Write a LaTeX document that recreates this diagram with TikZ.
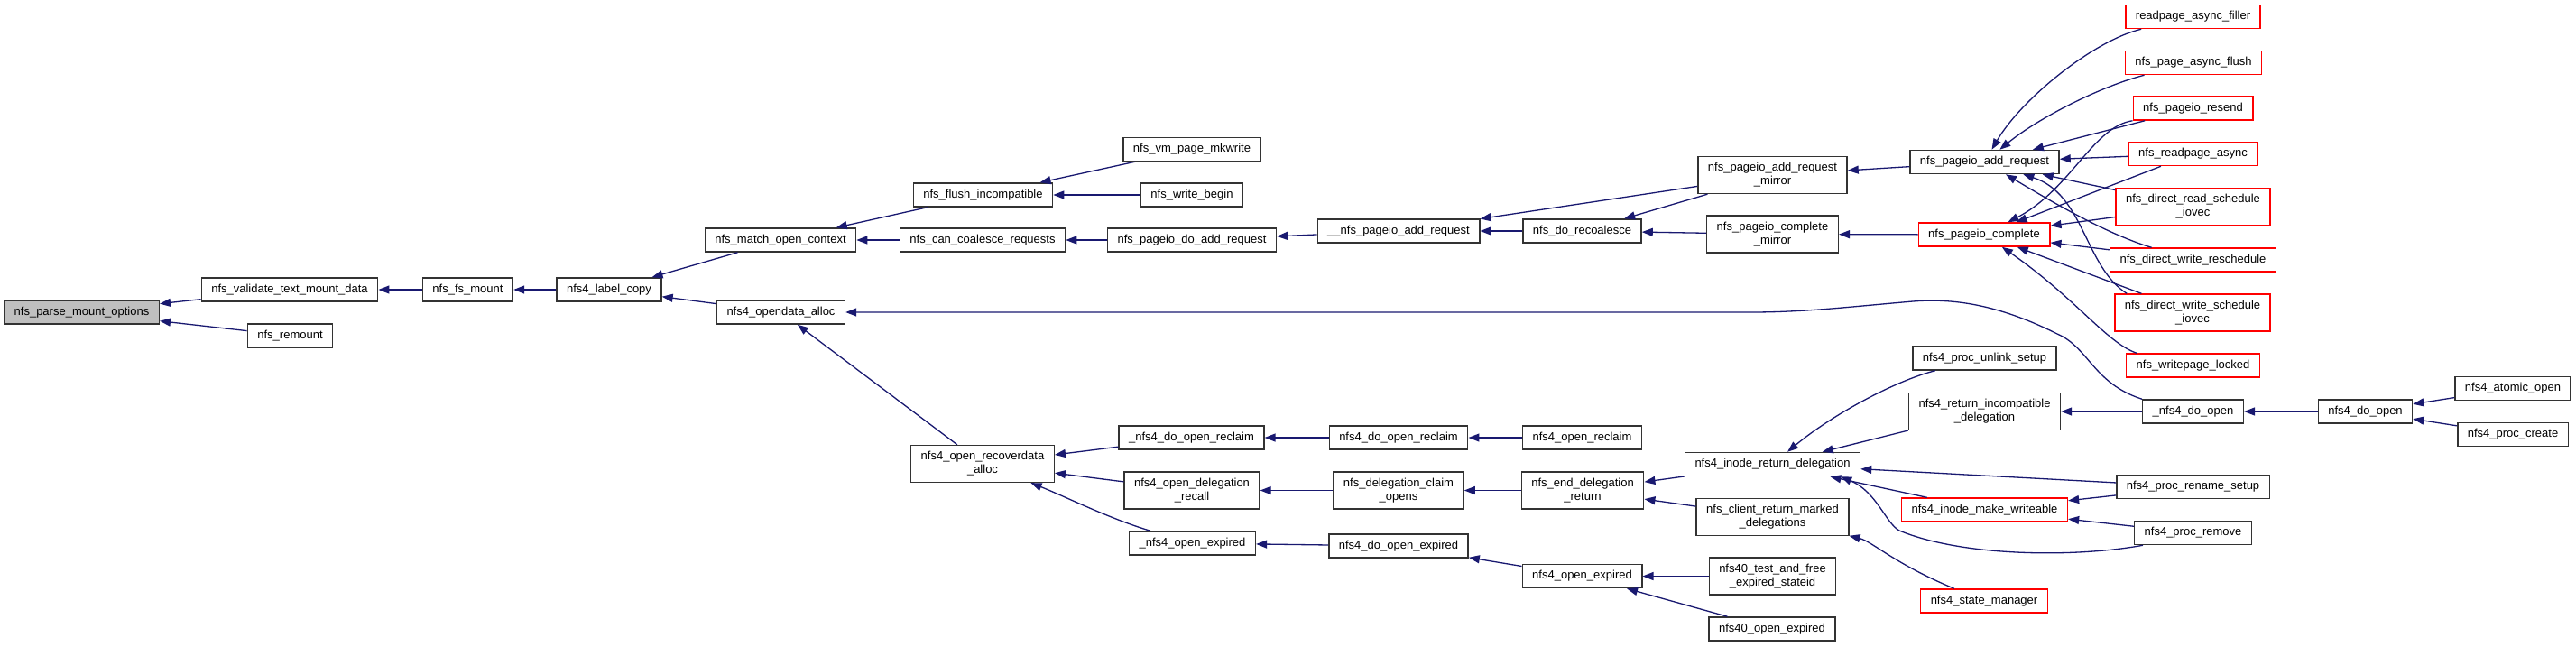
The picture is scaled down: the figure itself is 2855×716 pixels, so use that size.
\documentclass[tikz,border=0pt]{standalone}
\usepackage{fontspec}
\setmainfont{Liberation Sans}
\usetikzlibrary{arrows.meta}
\definecolor{cgedge}{HTML}{191970}
\definecolor{cgred}{HTML}{FF0000}
\tikzset{
  cg node/.style={
    rectangle, draw=black!80, fill=white, line width=1.4pt,
    font=\fontsize{13}{15}\selectfont, align=center,
    minimum height=26pt, inner xsep=11pt, inner ysep=7pt
  },
  cg root/.style={
    cg node, fill=black!25
  },
  cg red/.style={
    cg node, draw=cgred
  },
  cg arrow/.style={
    -{Triangle[length=12pt,width=9pt]}, line width=1.3pt, draw=cgedge
  }
}

\begin{document}
\begin{tikzpicture}[x=1pt, y=-1pt]
  \useasboundingbox (0,0) rectangle (2855,716);

  % callees on the left
  \node (parse) [cg root] at (90.5,346) {nfs\_parse\_mount\_options};
  \node (validate) [cg node] at (321,321) {nfs\_validate\_text\_mount\_data};
  \node (remount) [cg node] at (321.5,372) {nfs\_remount};
  \node (fsmount) [cg node] at (518.5,321) {nfs\_fs\_mount};
  \node (labelcopy) [cg node] at (675,321) {nfs4\_label\_copy};
  \node (matchctx) [cg node] at (865,266) {nfs\_match\_open\_context};
  \node (opendata) [cg node] at (865.5,346) {nfs4\_opendata\_alloc};
  \node (flush) [cg node] at (1089.5,216) {nfs\_flush\_incompatible};
  \node (coalesce) [cg node] at (1089,266) {nfs\_can\_coalesce\_requests};
  \node (recoverdata) [cg node] at (1089,514) {nfs4\_open\_recoverdata\\\_alloc};
  \node (mkwrite) [cg node] at (1321,165.5) {nfs\_vm\_page\_mkwrite};
  \node (writebegin) [cg node] at (1321,216) {nfs\_write\_begin};
  \node (doadd) [cg node] at (1321,266) {nfs\_pageio\_do\_add\_request};
  \node (udoreclaim) [cg node] at (1320.5,485) {\_nfs4\_do\_open\_reclaim};
  \node (delegrecall) [cg node] at (1321,543.5) {nfs4\_open\_delegation\\\_recall};
  \node (uexpired) [cg node] at (1321.5,602) {\_nfs4\_open\_expired};

  % middle
  \node (uuadd) [cg node] at (1550,256) {\_\_nfs\_pageio\_add\_request};
  \node (doreclaim) [cg node] at (1550,485) {nfs4\_do\_open\_reclaim};
  \node (claimopens) [cg node] at (1550,543.5) {nfs\_delegation\_claim\\\_opens};
  \node (doexpired) [cg node] at (1550,605) {nfs4\_do\_open\_expired};
  \node (recoalesce) [cg node] at (1753.5,256) {nfs\_do\_recoalesce};
  \node (openreclaim) [cg node] at (1753.5,485) {nfs4\_open\_reclaim};
  \node (enddeleg) [cg node] at (1754,543.5) {nfs\_end\_delegation\\\_return};
  \node (openexpired) [cg node] at (1753.5,638.5) {nfs4\_open\_expired};
  \node (addmirror) [cg node] at (1964.5,194) {nfs\_pageio\_add\_request\\\_mirror};
  \node (completemirror) [cg node] at (1964.5,259.5) {nfs\_pageio\_complete\\\_mirror};
  \node (inoderet) [cg node] at (1964.5,514.5) {nfs4\_inode\_return\_delegation};
  \node (clientret) [cg node] at (1964.5,573) {nfs\_client\_return\_marked\\\_delegations};
  \node (testfree) [cg node] at (1964.5,638.5) {nfs40\_test\_and\_free\\\_expired\_stateid};
  \node (v40expired) [cg node] at (1964,697) {nfs40\_open\_expired};

  % callers on the right
  \node (addreq) [cg node] at (2199.5,179.5) {nfs\_pageio\_add\_request};
  \node (complete) [cg red] at (2199,260) {nfs\_pageio\_complete};
  \node (unlinksetup) [cg node] at (2199.5,397) {nfs4\_proc\_unlink\_setup};
  \node (retincompat) [cg node] at (2199.5,456) {nfs4\_return\_incompatible\\\_delegation};
  \node (makewriteable) [cg red] at (2199.5,565) {nfs4\_inode\_make\_writeable};
  \node (statemgr) [cg red] at (2199,666) {nfs4\_state\_manager};
  \node (filler) [cg red] at (2430.5,18.5) {readpage\_async\_filler};
  \node (asyncflush) [cg red] at (2431,69.5) {nfs\_page\_async\_flush};
  \node (resend) [cg red] at (2430.5,120) {nfs\_pageio\_resend};
  \node (readpage) [cg red] at (2430.5,170.5) {nfs\_readpage\_async};
  \node (directread) [cg red] at (2430.5,229) {nfs\_direct\_read\_schedule\\\_iovec};
  \node (writeresched) [cg red] at (2430.5,288) {nfs\_direct\_write\_reschedule};
  \node (writesched) [cg red] at (2430,346.5) {nfs\_direct\_write\_schedule\\\_iovec};
  \node (writepage) [cg red] at (2430.5,405) {nfs\_writepage\_locked};
  \node (udoopen) [cg node] at (2430.5,456) {\_nfs4\_do\_open};
  \node (renamesetup) [cg node] at (2430.5,539.5) {nfs4\_proc\_rename\_setup};
  \node (procremove) [cg node] at (2430.5,590.5) {nfs4\_proc\_remove};
  \node (doopen) [cg node] at (2621.5,456) {nfs4\_do\_open};
  \node (atomicopen) [cg node] at (2785,430.5) {nfs4\_atomic\_open};
  \node (proccreate) [cg node] at (2785,481.5) {nfs4\_proc\_create};

  % calls
  \draw [cg arrow] (validate) -- (parse);
  \draw [cg arrow] (remount) -- (parse);
  \draw [cg arrow] (fsmount) -- (validate);
  \draw [cg arrow] (labelcopy) -- (fsmount);
  \draw [cg arrow] (matchctx) -- (labelcopy);
  \draw [cg arrow] (opendata) -- (labelcopy);
  \draw [cg arrow] (flush) -- (matchctx);
  \draw [cg arrow] (coalesce) -- (matchctx);
  \draw [cg arrow] (mkwrite) -- (flush);
  \draw [cg arrow] (writebegin) -- (flush);
  \draw [cg arrow] (doadd) -- (coalesce);
  \draw [cg arrow] (uuadd) -- (doadd);
  \draw [cg arrow] (addmirror) -- (uuadd);
  \draw [cg arrow] (recoalesce) -- (uuadd);
  \draw [cg arrow] (addmirror) -- (recoalesce);
  \draw [cg arrow] (completemirror) -- (recoalesce);
  \draw [cg arrow] (addreq) -- (addmirror);
  \draw [cg arrow] (complete) -- (completemirror);

  \draw [cg arrow] (filler) .. controls (2320,45) and (2240,110) .. (addreq);
  \draw [cg arrow] (asyncflush) .. controls (2330,95) and (2260,130) .. (addreq);
  \draw [cg arrow] (resend) -- (addreq);
  \draw [cg arrow] (readpage) -- (addreq);
  \draw [cg arrow] (directread) -- (addreq);
  \draw [cg arrow] (writeresched) .. controls (2330,258) and (2260,215) .. (addreq);
  \draw [cg arrow] ([xshift=14pt]writesched.north west) .. controls (2310,295) and (2310,215) .. (addreq);
  \draw [cg arrow] (resend.south west) .. controls (2320,140) and (2295,210) .. (complete);
  \draw [cg arrow] (readpage) -- (complete);
  \draw [cg arrow] (directread) -- (complete);
  \draw [cg arrow] (writeresched) -- (complete);
  \draw [cg arrow] (writesched) -- (complete);
  \draw [cg arrow] ([xshift=12pt]writepage.north west) .. controls (2335,380) and (2300,330) .. (complete);

  \draw [cg arrow] (udoopen.north west) .. controls (2320,425) and (2315,385) .. (2280,370)
    .. controls (2220,340) and (2170,330) .. (2120,334)
    .. controls (2050,340) and (2000,346) .. (1940,346) -- (opendata);
  \draw [cg arrow] (udoopen) -- (retincompat);
  \draw [cg arrow] (doopen) -- (udoopen);
  \draw [cg arrow] (atomicopen) -- (doopen);
  \draw [cg arrow] (proccreate) -- (doopen);

  \draw [cg arrow] (unlinksetup) .. controls (2100,422) and (2030,460) .. (inoderet);
  \draw [cg arrow] (retincompat) -- (inoderet);
  \draw [cg arrow] (renamesetup) -- (inoderet);
  \draw [cg arrow] (makewriteable) -- (inoderet);
  \draw [cg arrow] ([xshift=10pt]procremove.south west) .. controls (2300,618) and (2175,617) .. (2105,588)
    .. controls (2090,580) and (2080,545) .. ([xshift=-22pt]inoderet.south east);
  \draw [cg arrow] (renamesetup) -- (makewriteable);
  \draw [cg arrow] (procremove) -- (makewriteable);
  \draw [cg arrow] (statemgr) .. controls (2100,625) and (2075,600) .. (clientret);

  \draw [cg arrow] (inoderet) -- (enddeleg);
  \draw [cg arrow] (clientret) -- (enddeleg);
  \draw [cg arrow] (enddeleg) -- (claimopens);
  \draw [cg arrow] (claimopens) -- (delegrecall);
  \draw [cg arrow] (openreclaim) -- (doreclaim);
  \draw [cg arrow] (doreclaim) -- (udoreclaim);
  \draw [cg arrow] (testfree) -- (openexpired);
  \draw [cg arrow] (v40expired) -- (openexpired);
  \draw [cg arrow] (openexpired) -- (doexpired);
  \draw [cg arrow] (doexpired) -- (uexpired);
  \draw [cg arrow] (udoreclaim) -- (recoverdata);
  \draw [cg arrow] (delegrecall) -- (recoverdata);
  \draw [cg arrow] (uexpired) .. controls (1230,575) and (1180,550) .. (recoverdata);
  \draw [cg arrow] (recoverdata) -- (opendata);
\end{tikzpicture}
\end{document}
